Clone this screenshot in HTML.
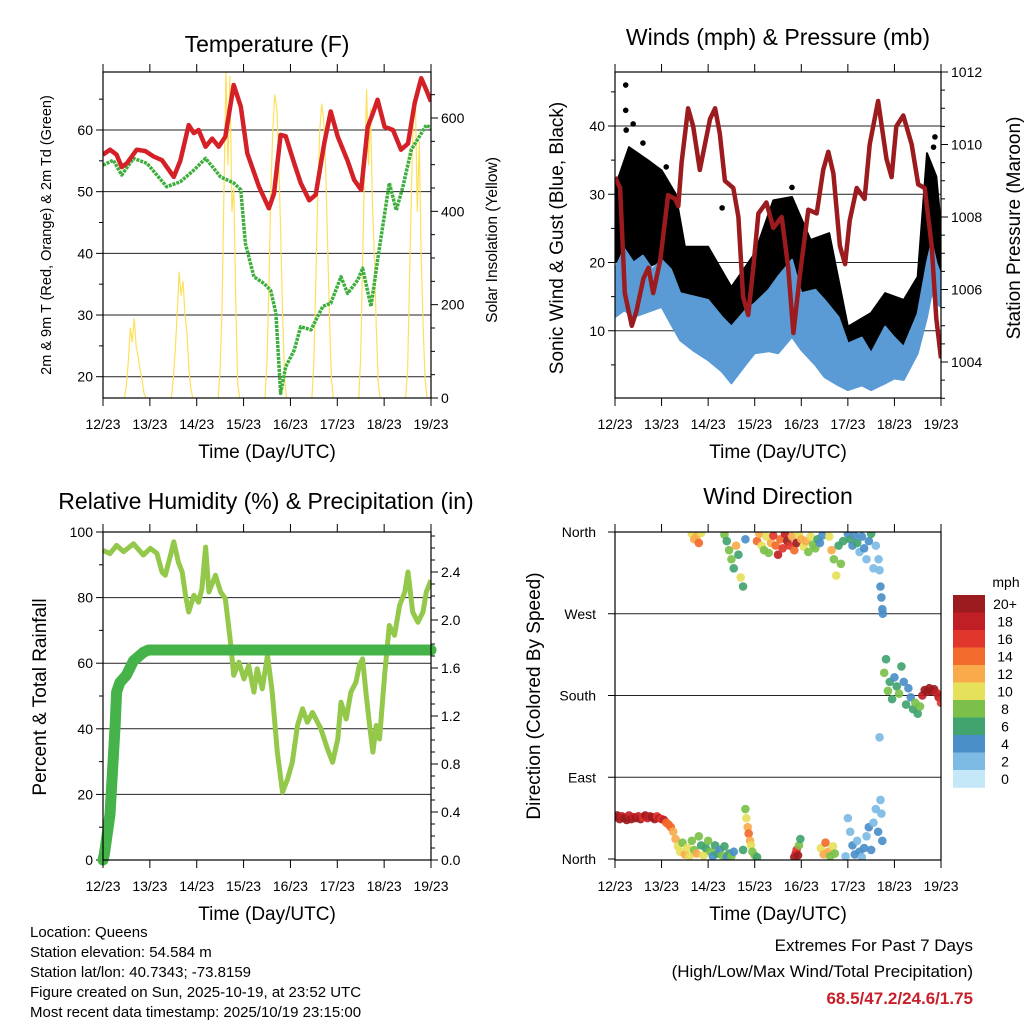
<!DOCTYPE html>
<html><head><meta charset="utf-8"><style>
html,body{margin:0;padding:0;background:#fff;}
svg{display:block;font-family:"Liberation Sans",Arial,sans-serif;}
</style></head><body>
<svg id="chart" width="1024" height="1024" viewBox="0 0 1024 1024" xmlns="http://www.w3.org/2000/svg"></svg>
<script>
// ---------- DATA ----------
const dayLabels = ["12/23","13/23","14/23","15/23","16/23","17/23","18/23","19/23"];
const tempT = [0,0.15,0.29,0.4,0.51,0.72,0.9,1.08,1.26,1.51,1.65,1.83,1.94,2.04,2.19,2.33,2.47,2.61,2.79,2.94,3.08,3.33,3.54,3.65,3.79,3.9,4.08,4.22,4.4,4.54,4.72,4.86,5.01,5.22,5.36,5.51,5.65,5.76,5.86,6.01,6.19,6.36,6.51,6.65,6.79,6.9,7.0];
const tempF = [56,56.8,56,54,54.6,56.8,56.6,55.7,55.1,52.4,55,60.8,59.5,60,57.3,58.6,57.3,58.9,67.3,63.8,56.2,50.8,47.3,49.7,59.2,59,54.6,51.4,48.6,49.5,57.8,63,58.9,55,51.9,50.3,60.5,62.7,64.9,60.5,60,56.8,57.8,64.3,68.4,66.5,64.6];
const dewT = [0,0.22,0.4,0.65,0.94,1.36,1.65,1.94,2.19,2.36,2.51,2.79,2.94,3.04,3.22,3.44,3.58,3.69,3.79,3.9,4.08,4.22,4.44,4.69,4.86,5.08,5.22,5.44,5.54,5.72,5.86,6.11,6.26,6.4,6.58,6.9,7.0];
const dewF = [54.3,55.1,52.7,55.4,54.6,50.8,51.6,53.5,55.4,53.8,52.4,51.4,50.3,41.6,36.2,35.1,34,30.3,17.3,21.6,24.3,28.1,27.6,31.4,31.9,36.2,33.5,35.7,37.6,31.4,38.9,51.4,47,50.8,56.8,60.8,60.3];
const solarHours = [11,12,13,14,15,16,17,18,19,20,21,22];
const solarDay0 = [0,30,80,150,120,170,110,90,60,40,10,0];
const solarDay1 = [0,40,100,180,270,220,250,180,140,60,20,0];
const solarDay2 = [0,60,200,450,700,500,690,400,450,200,30,0];
const solarDay3 = [0,80,250,450,580,650,620,520,350,180,40,0];
const solarDay4 = [0,80,250,440,570,630,600,500,340,170,40,0];
const solarDay5 = [0,90,300,500,660,500,620,420,300,150,30,0];
const solarDay6 = [0,60,250,450,620,640,400,550,300,150,40,0];
const presT = [0,0.11,0.21,0.36,0.46,0.61,0.72,0.82,0.97,1.14,1.29,1.36,1.43,1.57,1.68,1.82,2.04,2.15,2.25,2.36,2.54,2.65,2.75,2.86,2.97,3.08,3.25,3.4,3.58,3.72,3.83,3.97,4.15,4.33,4.47,4.58,4.69,4.83,4.94,5.04,5.19,5.36,5.47,5.65,5.83,5.94,6.04,6.19,6.37,6.51,6.65,6.8,6.9,7.0];
const presMb = [1009.1,1008.8,1005.9,1005.0,1005.4,1006.3,1006.6,1005.9,1006.8,1008.6,1008.5,1008.3,1009.5,1011.0,1010.5,1009.3,1010.7,1011.0,1010.3,1009.0,1008.8,1008.0,1005.8,1005.3,1006.6,1008.1,1008.4,1007.7,1008.0,1006.6,1004.8,1006.4,1008.2,1008.1,1009.3,1009.8,1009.2,1007.2,1006.7,1007.9,1008.8,1008.5,1010.0,1011.2,1009.6,1009.1,1010.5,1010.8,1010.0,1008.9,1008.8,1007.2,1005.2,1004.1];
const windT = [0,0.2,0.4,0.6,0.8,1,1.2,1.4,1.7,2,2.3,2.5,2.8,3,3.3,3.5,3.8,4,4.3,4.5,4.8,5,5.3,5.5,5.8,6,6.2,6.5,6.7,6.8,6.9,7];
const windHi = [19,22,20,21,19,20.4,19,15.5,15,14.5,12,10.6,13,14,16,17.9,20.4,15.5,16,14.5,12,8.1,9,6.7,10.6,9,7.6,12.5,20,23,20,18];
const windLo = [12,13,12,12.5,13,13.5,11,8.6,7,5.7,4,2.3,5,6.7,7,6.7,9.1,7.2,5,3.2,2,1.3,2,1.3,2.3,3,2.8,6.7,12,15.5,14,13.5];
const gustT = [0,0.3,0.7,1,1.3,1.5,2,2.5,3,3.4,3.8,4.2,4.6,5,5.5,5.8,6.2,6.5,6.7,6.9,7];
const gustHi = [31,36.9,35,33.5,30.1,22.3,22.3,16.4,21.3,29.1,29.6,23.3,24.3,10.6,12.6,15.5,14.5,17.9,36,32.6,25.2];
const gustLo = [20.3,18.4,19.3,20.3,17.4,12.5,10.6,6.6,10.6,12.5,16.4,13.5,12.5,4.7,5.7,7.1,6.6,9.6,19.3,20.3,16.9];
const gustOutT = [0.23,0.23,0.39,0.24,6.87,6.84,0.6,1.1,3.8,2.3];
const gustOutV = [46,42.3,40.3,39.4,38.4,36.9,37.5,34,31,28];
const rhT = [0,0.15,0.29,0.44,0.65,0.86,1.01,1.15,1.26,1.33,1.44,1.51,1.61,1.69,1.76,1.83,1.94,2.04,2.11,2.19,2.26,2.4,2.51,2.61,2.72,2.79,2.9,3.01,3.11,3.22,3.29,3.4,3.51,3.61,3.72,3.83,3.94,4.04,4.15,4.26,4.36,4.47,4.65,4.79,4.9,5.01,5.08,5.19,5.29,5.4,5.47,5.54,5.61,5.69,5.76,5.83,5.9,6.01,6.11,6.22,6.33,6.44,6.51,6.61,6.72,6.83,6.9,7.0];
const rhPct = [94.4,93.4,95.9,94,96.4,93,95,93.5,87.8,86.8,92.9,97,90.8,87.8,80.7,75.6,80.7,78.6,82.7,95.4,81.7,86.8,81.7,79.7,66.4,56.3,60.3,55.2,59.3,51.2,58.3,52.2,62.4,51.2,32.9,20.7,24.7,29.8,41,46.1,42,45,40,33.9,29.8,36.9,48.1,43,51.2,54.2,59.3,61.3,51.2,41,32.9,41,36.9,56.3,71.5,68.5,77.6,81.7,87.8,75.6,72.5,75.6,81.7,85.3];
const precipT = [0,0.03,0.15,0.26,0.29,0.36,0.5,0.65,0.86,0.97,7.0];
const precipIn = [0,0.05,0.38,1.13,1.4,1.48,1.54,1.66,1.73,1.75,1.75];
const dirT = [0,0.05,0.1,0.15,0.2,0.25,0.3,0.35,0.4,0.45,0.5,0.55,0.6,0.65,0.7,0.75,0.8,0.85,0.9,0.95,1.0,1.05,1.1,1.15,1.2,
 1.25,1.3,1.35,1.4,1.45,1.5,1.55,1.6,1.65,1.7,1.75,1.8,1.85,1.9,1.95,2.0,2.05,2.1,2.15,2.2,2.25,2.3,2.35,2.4,2.45,2.5,2.55,
 2.75,2.8,2.82,2.85,2.87,2.9,2.92,2.95,3.0,3.05,
 3.85,3.88,3.9,3.93,3.95,3.98,
 4.42,4.48,4.52,4.58,4.62,4.68,4.72,
 4.95,5.0,5.05,5.1,5.15,5.2,5.25,5.3,5.35,5.4,5.45,5.5,5.55,5.6,5.65,5.7,5.72,5.74,
 1.65,1.7,1.75,1.8,1.85,
 2.35,2.4,2.45,2.5,2.55,2.6,2.65,2.7,2.75,2.8,
 3.05,3.1,3.15,3.2,3.25,3.3,3.35,3.4,3.45,3.5,3.55,3.6,3.65,3.7,3.75,3.8,3.85,3.9,3.95,4.0,4.05,4.1,4.15,4.2,4.25,4.3,4.35,4.4,4.45,
 4.6,4.65,4.7,4.75,4.8,4.85,4.9,
 5.0,5.05,5.1,5.15,5.2,5.25,5.3,5.35,5.4,5.45,5.5,5.55,5.6,
 5.66,5.68,5.7,5.72,5.74,5.75,5.68,
 5.78,5.82,5.86,5.9,5.95,6.0,6.05,6.1,6.15,6.2,6.25,6.3,6.35,6.4,6.45,6.5,6.55,
 6.6,6.65,6.7,6.75,6.8,6.85,6.9,6.95,7.0];
const dirDeg = [46,48,44,47,45,43,48,44,46,45,47,44,46,48,45,47,46,44,47,45,44,43,40,38,35,
 30,22,14,8,18,5,12,3,20,10,6,25,15,4,12,20,8,3,15,6,10,4,14,2,6,3,8,
 10,55,45,35,28,20,15,8,4,2,
 2,6,10,4,15,22,
 12,5,18,8,3,14,6,
 3,45,30,15,5,20,8,2,12,25,35,10,40,55,30,65,50,20,
 358,352,355,348,359,
 357,350,340,330,320,345,335,310,300,352,
 350,358,345,340,355,337,348,356,345,335,352,342,358,350,345,355,340,348,357,352,344,350,338,355,346,342,352,348,356,
 355,340,330,312,345,325,350,
 358,352,345,356,348,338,355,342,330,350,358,320,345,
 330,318,300,288,275,270,134,
 205,220,185,195,176,200,190,182,212,195,170,188,178,165,172,160,168,
 180,186,184,188,185,187,183,178,172];
const dirSpd = [19,21,20,18,21,20,19,21,18,20,19,21,17,20,19,18,21,20,17,19,16,18,15,14,14,
 13,12,11,10,9,12,10,11,8,9,12,8,7,10,6,8,9,5,6,7,5,8,6,4,6,9,5,
 7,8,10,13,14,12,10,9,8,6,
 20,18,16,21,8,6,
 10,12,14,12,8,11,9,
 3,2,3,4,5,3,4,2,5,3,4,5,3,2,4,2,3,5,
 10,13,12,14,11,
 8,7,9,8,6,12,7,10,7,4,
 14,12,10,9,11,8,13,16,15,18,14,17,19,20,16,12,15,21,11,13,10,12,9,11,8,9,6,5,4,
 10,12,9,11,7,8,6,
 5,6,4,5,6,3,4,5,3,4,6,2,3,
 2,3,4,4,4,4,2,
 8,6,8,7,6,5,6,8,6,4,6,5,4,7,8,6,9,
 19,21,21,20,21,20,19,18,17];
const speedLabels = ["20+","18","16","14","12","10","8","6","4","2","0"];
const speedColors = ["#9b1b1e","#c01f26","#e0362b","#f26a2c","#f9ab4c","#e6e15b","#7cc04a","#41a36e","#4b8fc8","#7dbbe5","#c5e8f8"];

// ---------- HELPERS ----------
const NS = "http://www.w3.org/2000/svg";
const svg = document.getElementById("chart");
function mk(tag, attrs, parent) {
  const e = document.createElementNS(NS, tag);
  for (const k in attrs) e.setAttribute(k, attrs[k]);
  (parent || svg).appendChild(e);
  return e;
}
function txt(s, x, y, size, anchor, parent, extra) {
  const e = mk("text", Object.assign({x: x, y: y, "font-size": size, "text-anchor": anchor || "middle", fill: "#000"}, extra || {}), parent);
  e.textContent = s;
  return e;
}
function lin(d0, d1, r0, r1) { return v => r0 + (v - d0) * (r1 - r0) / (d1 - d0); }
function pathFrom(ts, vs, sx, sy) {
  const n = Math.min(ts.length, vs.length);
  let d = "";
  for (let i = 0; i < n; i++) d += (i ? "L" : "M") + sx(ts[i]).toFixed(1) + "," + sy(vs[i]).toFixed(1);
  return d;
}
function bandFrom(ts, hi, lo, sx, sy) {
  let d = "";
  for (let i = 0; i < ts.length; i++) d += (i ? "L" : "M") + sx(ts[i]).toFixed(1) + "," + sy(hi[i]).toFixed(1);
  for (let i = ts.length - 1; i >= 0; i--) d += "L" + sx(ts[i]).toFixed(1) + "," + sy(lo[i]).toFixed(1);
  return d + "Z";
}

function drawFrame(g, P, sx) {
  for (let i = 0; i < dayLabels.length; i++) {
    const x = sx(i);
    const t1 = mk("line", {x1: x, y1: P.y0, x2: x, y2: P.y0 - 8, stroke: "#000", "stroke-width": 1}, g);
    
    
    const t2 = mk("line", {x1: x, y1: P.y1, x2: x, y2: P.y1 + 8, stroke: "#000", "stroke-width": 1}, g);
    
    
    const lb = txt(dayLabels[i], x, P.y1 + 31, 14, "middle", g);
    
    
  }
  const xt = txt("Time (Day/UTC)", (P.x0 + P.x1) / 2, P.y1 + 60, 19, "middle", g);
  
  
}
function leftAxis(g, P, sy, vmin, vmax, minorStep, majorStep, fmt, grid) {
  for (let v = vmin; v <= vmax + 1e-6; v += minorStep) {
    const y = sy(v);
    if (y < P.y0 - 0.5 || y > P.y1 + 0.5) continue;
    const isMaj = Math.abs(v / majorStep - Math.round(v / majorStep)) < 1e-6;
    const tk = mk("line", {x1: P.x0, y1: y, x2: P.x0 - (isMaj ? 7 : 4), y2: y, stroke: "#000", "stroke-width": 1}, g);
    
    
    if (isMaj) {
      if (grid && y > P.y0 + 1 && y < P.y1 - 1) {
        const gl = mk("line", {x1: P.x0, y1: y, x2: P.x1, y2: y, stroke: "#222", "stroke-width": 1}, g);
        
        
      }
      const lb = txt(fmt(v), P.x0 - 10, y + 5, 14, "end", g);
      
      
    }
  }
}
function rightAxis(g, P, sy, vmin, vmax, minorStep, majorStep, fmt) {
  for (let v = vmin; v <= vmax + 1e-6; v += minorStep) {
    const y = sy(v);
    if (y < P.y0 - 0.5 || y > P.y1 + 0.5) continue;
    const isMaj = Math.abs(v / majorStep - Math.round(v / majorStep)) < 1e-6;
    const tk = mk("line", {x1: P.x1, y1: y, x2: P.x1 + (isMaj ? 7 : 4), y2: y, stroke: "#000", "stroke-width": 1}, g);
    
    
    if (isMaj) {
      const lb = txt(fmt(v), P.x1 + 10, y + 5, 14, "start", g);
      
      
    }
  }
}
function box(g, P) {
  const r = mk("rect", {x: P.x0, y: P.y0, width: P.x1 - P.x0, height: P.y1 - P.y0, fill: "none", stroke: "#000", "stroke-width": 1.2}, g);
  
  
}
function clipFor(id, P) {
  const defs = mk("defs", {});
  const cp = mk("clipPath", {id: id}, defs);
  mk("rect", {x: P.x0, y: P.y0, width: P.x1 - P.x0, height: P.y1 - P.y0}, cp);
}
function vtitle(s, x, y, size, g) {
  return txt(s, x, y, size, "middle", g, {transform: "rotate(-90 " + x + " " + y + ")"});
}

// ---------- PANEL 1: TEMPERATURE ----------
(function () {
  const P = {x0: 103, x1: 431, y0: 72, y1: 398};
  const g = mk("g", {});
  
  
  clipFor("c1", P);
  const sx = lin(0, 7, P.x0, P.x1);
  const sy = lin(60, 20, 130, 376.7);
  const sr = lin(0, 600, 398, 118);
  leftAxis(g, P, sy, 15, 70, 5, 10, v => String(v), true);
  rightAxis(g, P, sr, 0, 700, 50, 200, v => String(v));
  const pg = mk("g", {"clip-path": "url(#c1)"}, g);
  const solarDays = [solarDay0, solarDay1, solarDay2, solarDay3, solarDay4, solarDay5, solarDay6];
  for (let d = 0; d < solarDays.length; d++) {
    const ts = solarHours.map(h => d + h / 24);
    const s = mk("path", {d: pathFrom(ts, solarDays[d], sx, sr), fill: "none", stroke: "#fde05a", "stroke-width": 1.2, "stroke-linejoin": "round"}, pg);
    
    
  }
  const dw = mk("path", {d: pathFrom(dewT, dewF, sx, sy), fill: "none", stroke: "#3dae3b", "stroke-width": 3.5, "stroke-dasharray": "3 1", "stroke-linejoin": "round"}, pg);
  
  
  const tp = mk("path", {d: pathFrom(tempT, tempF, sx, sy), fill: "none", stroke: "#d42027", "stroke-width": 4.5, "stroke-linejoin": "round"}, pg);
  
  
  box(g, P);
  drawFrame(g, P, sx);
  const t = txt("Temperature (F)", 267, 52, 23, "middle", g);
  
  
  const yl = vtitle("2m & 9m T (Red, Orange) & 2m Td (Green)", 51, 235, 14.5, g);
  
  
  const yr = vtitle("Solar Insolation (Yellow)", 497, 240, 15.5, g);
  
  
})();

// ---------- PANEL 2: WINDS & PRESSURE ----------
(function () {
  const P = {x0: 615, x1: 941, y0: 72, y1: 398};
  const g = mk("g", {});
  
  
  clipFor("c2", P);
  const sx = lin(0, 7, P.x0, P.x1);
  const sy = lin(0, 40, 399, 126);
  const sp = lin(1004, 1012, 362, 72);
  leftAxis(g, P, sy, 0, 50, 5, 10, v => String(v), true);
  rightAxis(g, P, sp, 1003, 1012, 0.5, 2, v => String(v));
  const pg = mk("g", {"clip-path": "url(#c2)"}, g);
  const gb = mk("path", {d: bandFrom(gustT, gustHi, gustLo, sx, sy), fill: "#000", stroke: "#000", "stroke-width": 2, "stroke-linejoin": "round"}, pg);
  
  
  for (let i = 0; i < gustOutT.length; i++) {
    const c = mk("circle", {cx: sx(gustOutT[i]), cy: sy(gustOutV[i]), r: 2.8, fill: "#000"}, pg);
    
    
  }
  const wb = mk("path", {d: bandFrom(windT, windHi, windLo, sx, sy), fill: "#5a9bd5", stroke: "#5a9bd5", "stroke-width": 2, "stroke-linejoin": "round"}, pg);
  
  
  const pr = mk("path", {d: pathFrom(presT, presMb, sx, sp), fill: "none", stroke: "#9b1b1e", "stroke-width": 4.5, "stroke-linejoin": "round"}, pg);
  
  
  box(g, P);
  drawFrame(g, P, sx);
  const t = txt("Winds (mph) & Pressure (mb)", 778, 45, 23, "middle", g);
  
  
  const yl = vtitle("Sonic Wind & Gust (Blue, Black)", 563, 238, 19, g);
  
  
  const yr = vtitle("Station Pressure (Maroon)", 1020, 228, 19, g);
  
  
})();

// ---------- PANEL 3: RH & PRECIP ----------
(function () {
  const P = {x0: 103, x1: 431, y0: 532, y1: 860};
  const g = mk("g", {});
  
  
  clipFor("c3", P);
  const sx = lin(0, 7, P.x0, P.x1);
  const sy = lin(0, 100, 860, 532);
  const sr = lin(0, 2.4, 860, 572);
  leftAxis(g, P, sy, 0, 100, 10, 20, v => String(v), true);
  rightAxis(g, P, sr, 0, 2.7, 0.1, 0.4, v => v.toFixed(1));
  const pg = mk("g", {"clip-path": "url(#c3)"}, g);
  const rh = mk("path", {d: pathFrom(rhT, rhPct, sx, sy), fill: "none", stroke: "#93c84a", "stroke-width": 5, "stroke-linejoin": "round"}, pg);
  
  
  const pc = mk("path", {d: pathFrom(precipT, precipIn, sx, sr), fill: "none", stroke: "#45b349", "stroke-width": 11, "stroke-linejoin": "round", "stroke-linecap": "round"}, g);
  
  
  box(g, P);
  drawFrame(g, P, sx);
  const t = txt("Relative Humidity (%) & Precipitation (in)", 266, 509, 23, "middle", g);
  
  
  const yl = vtitle("Percent & Total Rainfall", 46, 697, 19, g);
  
  
})();

// ---------- PANEL 4: WIND DIRECTION ----------
(function () {
  const P = {x0: 615, x1: 941, y0: 532, y1: 860};
  const g = mk("g", {});
  
  
  clipFor("c4", P);
  const sx = lin(0, 7, P.x0, P.x1);
  const sy = lin(0, 360, 859, 532);
  const dirNames = ["North", "East", "South", "West", "North"];
  for (let i = 0; i < dirNames.length; i++) {
    const y = sy(i * 90);
    const tk = mk("line", {x1: P.x0, y1: y, x2: P.x0 - 7, y2: y, stroke: "#000", "stroke-width": 1}, g);
    
    
    if (i > 0 && i < 4) {
      const gl = mk("line", {x1: P.x0, y1: y, x2: P.x1, y2: y, stroke: "#222", "stroke-width": 1}, g);
      
      
    }
    const lb = txt(dirNames[i], P.x0 - 19, y + 5, 14, "end", g);
    
    
  }
  const pg = mk("g", {"clip-path": "url(#c4)"}, g);
  const n = Math.min(dirT.length, dirDeg.length, dirSpd.length);
  for (let i = 0; i < n; i++) {
    let bin = Math.floor(dirSpd[i] / 2);
    if (bin > 10) bin = 10;
    const col = speedColors[10 - bin];
    const c = mk("circle", {cx: sx(dirT[i]), cy: sy(dirDeg[i]), r: 4.3, fill: col, "fill-opacity": 0.92}, pg);
    
    
  }
  box(g, P);
  drawFrame(g, P, sx);
  const t = txt("Wind Direction", 778, 504, 23, "middle", g);
  
  
  const yl = vtitle("Direction (Colored By Speed)", 540, 696, 19, g);
  
  
  const cb = mk("g", {}, g);
  
  
  const cbTop = 595, cbH = 17.5;
  for (let i = 0; i < speedColors.length; i++) {
    const r = mk("rect", {x: 953, y: cbTop + i * cbH, width: 32, height: cbH + 0.3, fill: speedColors[i]}, cb);
    
    
    const l = txt(speedLabels[i], 1005, cbTop + i * cbH + 14, 14, "middle", cb);
    
    
  }
  const u = txt("mph", 1006, 587, 14, "middle", cb);
  
  
})();

// ---------- FOOTER TEXT ----------
(function () {
  const g = mk("g", {});
  
  
  const lines = ["Location: Queens", "Station elevation: 54.584 m", "Station lat/lon: 40.7343; -73.8159", "Figure created on Sun, 2025-10-19, at 23:52 UTC", "Most recent data timestamp: 2025/10/19 23:15:00"];
  for (let i = 0; i < lines.length; i++) {
    const e = txt(lines[i], 30, 937 + i * 20, 15, "start", g);
    
    
  }
  const g2 = mk("g", {});
  
  
  const a = txt("Extremes For Past 7 Days", 973, 951, 17, "end", g2);
  
  
  const b = txt("(High/Low/Max Wind/Total Precipitation)", 973, 977, 17, "end", g2);
  
  
  const c = txt("68.5/47.2/24.6/1.75", 973, 1004, 17, "end", g2, {fill: "#c8202a", "font-weight": "bold"});
  
  
})();
</script>
</body></html>
